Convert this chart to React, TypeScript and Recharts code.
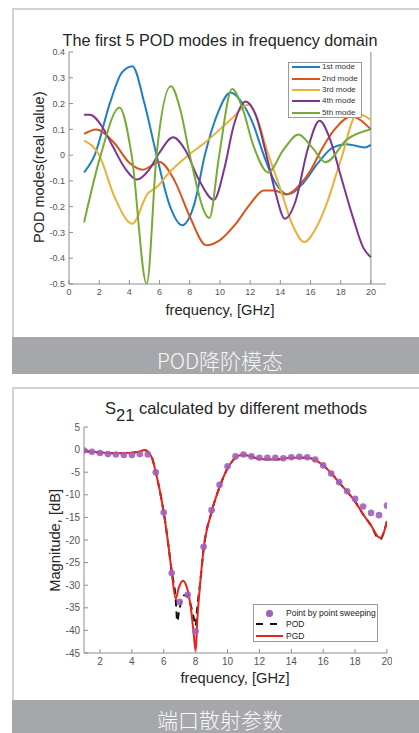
import React from 'react';
import { LineChart, ComposedChart, Line, XAxis, YAxis, ReferenceLine } from 'recharts';

const FONT = "'Liberation Sans', Arial, Helvetica, sans-serif";
const CJK = "'Noto Sans CJK SC', 'Noto Sans', sans-serif";

// ---------- Top chart: POD modes ----------
const podTitle = 'The first 5 POD modes in frequency domain';
const podYLabel = 'POD modes(real value)';
const freqLabel = 'frequency, [GHz]';
const modeNames = ['1st mode', '2nd mode', '3rd mode', '4th mode', '5th mode'];
const modeColors = ['#1f7fc4', '#d9541a', '#ebb03a', '#7e3590', '#76ac35'];

const mode1Freq = [1, 1.7, 2.7, 3.5, 4.2, 5.0, 5.8, 6.7, 7.5, 8.3, 9.0, 9.9, 10.7, 11.5, 12.2, 12.9, 13.6, 14.5, 15.5, 16.5, 17.5, 18.4, 19.6, 20];
const mode1Val = [-0.067, 0.0, 0.2, 0.32, 0.345, 0.2, 0.0, -0.2, -0.272, -0.19, 0.0, 0.17, 0.243, 0.2, 0.12, 0.0, -0.1, -0.152, -0.11, -0.03, 0.03, 0.042, 0.03, 0.04];

const mode2Freq = [1, 1.8, 3.0, 4.0, 4.9, 5.5, 6.0, 7.0, 8.0, 9.1, 10.0, 11.0, 12.0, 12.9, 13.6, 14.4, 15.3, 16.0, 16.6, 17.6, 18.7, 20];
const mode2Val = [0.082, 0.099, 0.047, -0.03, -0.057, -0.04, -0.027, -0.1, -0.238, -0.35, -0.33, -0.27, -0.19, -0.137, -0.137, -0.153, -0.115, -0.06, 0.008, 0.1, 0.15, 0.1];

const mode3Freq = [1, 2.0, 3.0, 4.2, 5.2, 5.8, 6.6, 7.8, 9.1, 10.7, 11.9, 12.5, 13.0, 14.0, 14.8, 15.6, 16.3, 17.0, 18.0, 19.1, 20];
const mode3Val = [0.056, 0.0, -0.16, -0.266, -0.15, -0.125, -0.07, -0.005, 0.053, 0.137, 0.195, 0.14, 0.04, -0.13, -0.27, -0.337, -0.29, -0.2, -0.02, 0.16, 0.137];

const mode4Freq = [1, 1.4, 2.2, 2.9, 3.7, 4.5, 5.3, 6.0, 6.9, 7.7, 8.6, 9.6, 10.3, 10.9, 11.7, 12.4, 13.1, 13.7, 14.3, 15.0, 15.8, 16.6, 17.3, 18.0, 18.8, 19.5, 20];
const mode4Val = [0.157, 0.157, 0.11, 0.034, -0.05, -0.095, -0.057, 0.01, 0.069, 0.02, -0.095, -0.173, -0.05, 0.112, 0.208, 0.15, -0.005, -0.15, -0.247, -0.18, 0.02, 0.133, 0.06, -0.08, -0.24, -0.36, -0.396];

const mode5Freq = [1, 2.1, 3.35, 4.15, 5.15, 5.8, 6.75, 7.4, 8.0, 9.3, 9.95, 10.8, 11.5, 12.2, 13.2, 14.2, 15.2, 16.1, 17.0, 18.4, 20];
const mode5Val = [-0.261, 0.0, 0.185, 0.0, -0.5, 0.0, 0.267, 0.17, 0.0, -0.244, 0.0, 0.256, 0.18, 0.04, -0.067, 0.02, 0.08, 0.03, -0.028, 0.06, 0.1];

const modeXTicks = [0, 2, 4, 6, 8, 10, 12, 14, 16, 18, 20];
const modeYTicks = [-0.5, -0.4, -0.3, -0.2, -0.1, 0, 0.1, 0.2, 0.3, 0.4];

// ---------- Bottom chart: S21 ----------
const s21YLabel = 'Magnitude, [dB]';
const s21Names = ['Point by point sweeping', 'POD', 'PGD'];

const sweepFreq = [1, 1.5, 2, 2.5, 3, 3.5, 4, 4.5, 5, 5.5, 6, 6.5, 7, 7.5, 8, 8.5, 9, 9.5, 10, 10.5, 11, 11.5, 12, 12.5, 13, 13.5, 14, 14.5, 15, 15.5, 16, 16.5, 17, 17.5, 18, 18.5, 19, 19.5, 20];
const sweepVal = [-0.2, -0.5, -0.75, -1.0, -1.1, -1.2, -1.2, -1.0, -1.1, -5.0, -13.9, -27.3, -33.7, -32.1, -40.2, -21.5, -13.4, -7.8, -3.7, -1.5, -1.1, -1.5, -1.8, -1.8, -1.8, -1.9, -1.7, -1.6, -1.7, -2.2, -3.5, -5.3, -7.2, -9.2, -10.9, -12.6, -14.0, -14.5, -12.4];

const podFreq = [1, 1.5, 2, 3, 4, 4.5, 4.8, 5.1, 5.3, 5.5, 5.75, 6.0, 6.25, 6.5, 6.75, 6.85, 6.95, 7.1, 7.3, 7.5, 7.7, 7.9, 8.0, 8.1, 8.3, 8.5, 9.0, 9.5, 10.0, 10.5, 10.9, 11.5, 12.0, 13.0, 14.0, 15.0, 15.5, 16.0, 16.5, 17.0, 17.5, 18.0, 18.5, 19.0, 19.45, 19.6, 19.8, 20];
const podVal = [-0.3, -0.5, -0.65, -0.8, -0.7, -0.4, -0.1, -0.8, -2.2, -5, -9, -13.9, -20, -27, -33, -38, -36, -33.5, -32.2, -32.5, -34.5, -37.5, -39, -35, -29, -22, -13.8, -8.3, -4.2, -1.8, -1.2, -1.5, -2.1, -2.2, -1.8, -1.8, -2.3, -3.5, -5.2, -7.3, -9.3, -11.5, -14.3, -16.8, -19.6, -19.8, -18.3, -15.8];

const pgdFreq = [1, 1.5, 2, 3, 4, 4.5, 4.8, 5.1, 5.3, 5.5, 5.75, 6.0, 6.25, 6.5, 6.75, 6.95, 7.2, 7.45, 7.7, 7.9, 8.0, 8.1, 8.3, 8.5, 9.0, 9.5, 10.0, 10.5, 10.9, 11.5, 12.0, 13.0, 14.0, 15.0, 15.5, 16.0, 16.5, 17.0, 17.5, 18.0, 18.5, 19.0, 19.45, 19.6, 19.8, 20];
const pgdVal = [-0.3, -0.5, -0.65, -0.8, -0.7, -0.4, -0.1, -0.8, -2.2, -5, -9, -13.9, -20, -27, -33, -30.5, -29, -30.5, -35, -41.5, -44.7, -38, -29, -22, -13.8, -8.3, -4.2, -1.8, -1.2, -1.5, -2.1, -2.2, -1.8, -1.8, -2.3, -3.5, -5.2, -7.3, -9.3, -11.5, -14.3, -16.8, -19.3, -19.5, -18.3, -15.8];

const s21XTicks = [2, 4, 6, 8, 10, 12, 14, 16, 18, 20];
const s21YTicks = [-45, -40, -35, -30, -25, -20, -15, -10, -5, 0, 5];

const captionTop = 'POD降阶模态';
const captionBottom = '端口散射参数';

const zip = (f: number[], v: number[]) => f.map((x, i) => ({ f: x, v: v[i] }));

const AXIS = '#8d8d8d';
const blank = () => '';

function TopChart() {
  const modes = [
    zip(mode1Freq, mode1Val),
    zip(mode2Freq, mode2Val),
    zip(mode3Freq, mode3Val),
    zip(mode4Freq, mode4Val),
    zip(mode5Freq, mode5Val),
  ];
  const tick = { fontSize: 9, fill: '#555', fontFamily: FONT };
  return (
    <LineChart width={419} height={330} margin={{ top: 52, right: 33, left: 29, bottom: 16 }}>
      <XAxis xAxisId="b" type="number" dataKey="f" domain={[0, 21]} ticks={modeXTicks} interval={0}
        allowDataOverflow stroke={AXIS} tickSize={-4} tickMargin={9} tick={tick} height={30} />
      <XAxis xAxisId="t" orientation="top" type="number" dataKey="f" domain={[0, 21]} ticks={modeXTicks}
        interval={0} allowDataOverflow stroke={AXIS} tickSize={-4} tickFormatter={blank} height={0} />
      <YAxis yAxisId="l" type="number" domain={[-0.5, 0.4]} ticks={modeYTicks} interval={0}
        allowDataOverflow stroke={AXIS} tickSize={-4} tickMargin={8} tick={tick} width={40} />
      <ReferenceLine xAxisId="b" yAxisId="l" x={20} stroke={AXIS} />
      {modes.map((d, i) => (
        <Line key={i} xAxisId="b" yAxisId="l" data={d} dataKey="v" type="monotone" stroke={modeColors[i]}
          strokeWidth={2} dot={false} isAnimationActive={false} />
      ))}
    </LineChart>
  );
}

function BottomChart() {
  const tick = { fontSize: 10, fill: '#555', fontFamily: FONT };
  return (
    <ComposedChart width={419} height={310} margin={{ top: 47, right: 32, left: 44, bottom: 7 }}>
      <XAxis xAxisId="b" type="number" dataKey="f" domain={[1, 20]} ticks={s21XTicks} interval={0}
        allowDataOverflow stroke={AXIS} tickSize={-4} tickMargin={9} tick={tick} height={30} />
      <XAxis xAxisId="t" orientation="top" type="number" dataKey="f" domain={[1, 20]} ticks={s21XTicks}
        interval={0} allowDataOverflow stroke={AXIS} tickSize={-4} tickFormatter={blank} height={0} />
      <YAxis yAxisId="l" type="number" domain={[-45, 5]} ticks={s21YTicks} interval={0}
        allowDataOverflow stroke={AXIS} tickSize={-4} tickMargin={8} tick={tick} width={40} />
      <YAxis yAxisId="r" orientation="right" type="number" domain={[-45, 5]} ticks={s21YTicks} interval={0}
        allowDataOverflow stroke={AXIS} tickSize={-4} tickFormatter={blank} width={0} />
      <Line xAxisId="b" yAxisId="l" data={zip(podFreq, podVal)} dataKey="v" type="monotone" stroke="#111"
        strokeWidth={2} strokeDasharray="7 5" dot={false} isAnimationActive={false} />
      <Line xAxisId="b" yAxisId="l" data={zip(pgdFreq, pgdVal)} dataKey="v" type="monotone" stroke="#e8231d"
        strokeWidth={2} dot={false} isAnimationActive={false} />
      <Line xAxisId="b" yAxisId="l" data={zip(sweepFreq, sweepVal)} dataKey="v" stroke="none"
        dot={{ r: 3.3, fill: '#a060bb', stroke: 'none', fillOpacity: 0.9 }} isAnimationActive={false} />
    </ComposedChart>
  );
}

const abs = (s: React.CSSProperties): React.CSSProperties => ({ position: 'absolute', ...s });

function Text({ x, baseline, fs, children, rotate }: any) {
  if (rotate) {
    return (
      <div style={abs({ left: x - 150, top: baseline - 0.5 * fs, width: 300, height: fs, lineHeight: 1,
        fontSize: fs, textAlign: 'center', color: '#262626', whiteSpace: 'nowrap',
        transform: 'rotate(-90deg)', transformOrigin: '50% 50%' })}>{children}</div>
    );
  }
  return (
    <div style={abs({ left: x - 200, top: baseline - 0.8465 * fs, width: 400, lineHeight: 1, fontSize: fs,
      textAlign: 'center', color: '#262626', whiteSpace: 'nowrap' })}>{children}</div>
  );
}

export default function App() {
  return (
    <div style={abs({ left: 0, top: 0, width: 419, height: 733, background: '#fff', overflow: 'hidden', fontFamily: FONT })}>
      {/* top panel */}
      <div style={abs({ left: 12, top: 8, width: 420, height: 340, borderLeft: '2px solid #d3d3d3', borderTop: '2px solid #d3d3d3', boxSizing: 'border-box' })} />
      <div style={abs({ left: 0, top: 0 })}><TopChart /></div>
      <Text x={220} baseline={45.5} fs={16.2}>{podTitle}</Text>
      <Text x={220} baseline={315} fs={14.7}>{freqLabel}</Text>
      <Text x={38.5} baseline={167} fs={14.5} rotate>{podYLabel}</Text>
      <div style={abs({ left: 288, top: 62, width: 74, height: 56, border: '1px solid #9a9a9a', background: '#fff', boxSizing: 'border-box' })} />
      {modeNames.map((n, i) => (
        <React.Fragment key={n}>
          <div style={abs({ left: 292, top: 66.3 + i * 11.35, width: 28, height: 2, background: modeColors[i] })} />
          <div style={abs({ left: 322, top: 63.3 + i * 11.35, fontSize: 8, lineHeight: '8px', color: '#333', whiteSpace: 'nowrap' })}>{n}</div>
        </React.Fragment>
      ))}
      <div style={abs({ left: 12, top: 337, width: 407, height: 37, background: '#a6a7aa' })} />
      <div style={abs({ left: 20, top: 349.5, width: 400, textAlign: 'center', fontFamily: CJK, fontSize: 21, lineHeight: 1, color: '#f7f7f7', fontWeight: 300 })}>{captionTop}</div>

      {/* bottom panel */}
      <div style={abs({ left: 12, top: 387, width: 420, height: 320, borderLeft: '2px solid #d3d3d3', borderTop: '2px solid #d3d3d3', boxSizing: 'border-box' })} />
      <div style={abs({ left: 0, top: 380, width: 392, height: 310, overflow: 'hidden' })}><BottomChart /></div>
      <div style={abs({ left: 36, top: 414 - 0.8465 * 16.5, width: 400, lineHeight: 1, fontSize: 16.5, textAlign: 'center', color: '#262626', whiteSpace: 'nowrap' })}>
        S<span style={{ position: 'relative', top: 6.5 }}>21</span> calculated by different methods
      </div>
      <Text x={235} baseline={683.5} fs={14.7}>{freqLabel}</Text>
      <Text x={54.5} baseline={540} fs={14.7} rotate>{s21YLabel}</Text>
      <div style={abs({ left: 253, top: 604, width: 125, height: 38, border: '1px solid #9a9a9a', background: '#fff', boxSizing: 'border-box' })} />
      <div style={abs({ left: 266, top: 610, width: 6.6, height: 6.6, borderRadius: '50%', background: '#a060bb' })} />
      <div style={abs({ left: 256, top: 623, width: 7, height: 2, background: '#111' })} />
      <div style={abs({ left: 270, top: 623, width: 7, height: 2, background: '#111' })} />
      <div style={abs({ left: 256, top: 635, width: 27, height: 2, background: '#e8231d' })} />
      {s21Names.map((n, i) => (
        <div key={n} style={abs({ left: 286, top: [608.7, 619.7, 631.7][i], fontSize: 8.5, lineHeight: '8.5px', color: '#222', whiteSpace: 'nowrap' })}>{n}</div>
      ))}
      <div style={abs({ left: 12, top: 700, width: 407, height: 33, background: '#a6a7aa' })} />
      <div style={abs({ left: 20, top: 708.5, width: 400, textAlign: 'center', fontFamily: CJK, fontSize: 21, lineHeight: 1, color: '#f7f7f7', fontWeight: 300 })}>{captionBottom}</div>
    </div>
  );
}
